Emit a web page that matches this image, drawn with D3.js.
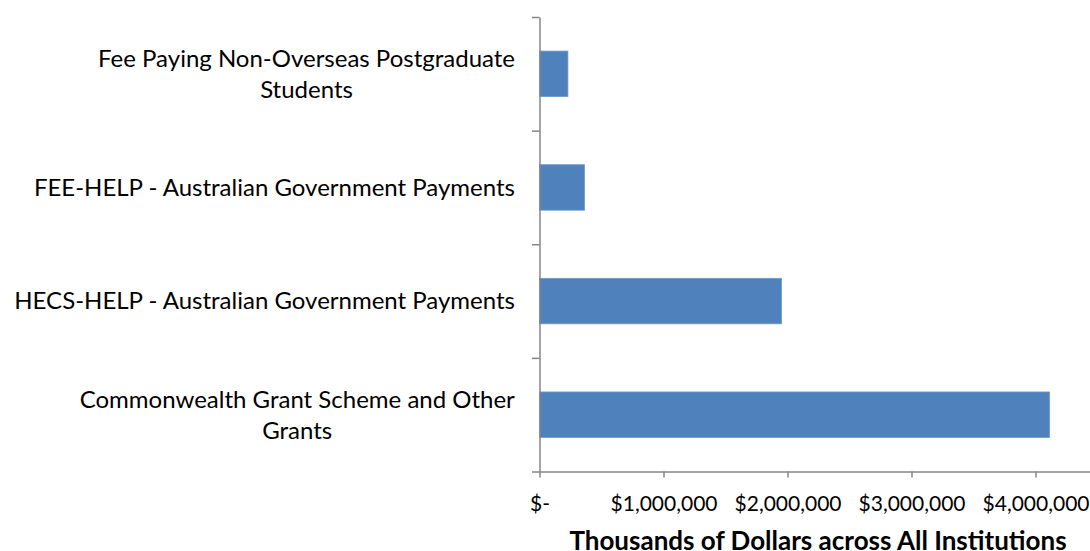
<!DOCTYPE html>
<html>
<head>
<meta charset="utf-8">
<script src="https://cdn.jsdelivr.net/npm/d3@7"></script>
<style>
  body { margin: 0; background: #fff; }
  svg { display: block; font-family: Lato, "Open Sans", sans-serif; }
</style>
</head>
<body>
<svg></svg>
<script>
// categories from top to bottom, with the line breaks used in the picture
let categories = [
    "Fee Paying Non-Overseas Postgraduate Students",
    "FEE-HELP - Australian Government Payments",
    "HECS-HELP - Australian Government Payments",
    "Commonwealth Grant Scheme and Other Grants"
]
let labelLines = [
    ["Fee Paying Non-Overseas Postgraduate", "Students"],
    ["FEE-HELP - Australian Government Payments"],
    ["HECS-HELP - Australian Government Payments"],
    ["Commonwealth Grant Scheme and Other", "Grants"]
]
// thousands of dollars
let values = [229000, 363000, 1952000, 4113000]
let xTicks = [0, 1000000, 2000000, 3000000, 4000000, 5000000]
let xTitle = "Thousands of Dollars across All Institutions"

let width = 1090
let height = 551
let plotLeft = 539.5
let plotTop = 17
let plotBottom = 471.5
let unit = 124   // pixels per $1,000,000

let svg = d3.select("svg")
    .attr("width", width)
    .attr("height", height)

// x runs past the right edge of the picture, like the cropped original
let xScale = d3.scaleLinear()
    .domain([0, 5000000])
    .range([plotLeft, plotLeft + unit * 5])

let yScale = d3.scaleBand()
    .domain(categories)
    .range([plotTop, plotBottom])
    .paddingInner(0.6)
    .paddingOuter(0.3)

// boundaries between categories for the y tick marks
let yEdges = d3.scaleLinear()
    .domain([0, categories.length])
    .range([plotTop, plotBottom])

// bars
svg.selectAll("rect.bar")
    .data(values)
    .enter()
    .append("rect")
    .attr("class", "bar")
    .attr("x", xScale(0))
    .attr("y", (d, i) => yScale(categories[i]))
    .attr("width", (d) => xScale(d) - xScale(0))
    .attr("height", yScale.bandwidth())
    .attr("fill", "#4f81bd")
    .attr("stroke", "#6d97cc")
    .attr("stroke-width", 0.8)

// x axis
let xAxis = d3.axisBottom(xScale)
    .tickValues(xTicks)
    .tickSizeInner(6)
    .tickSizeOuter(0)
    .tickPadding(18.5)
    .tickFormat((d) => d === 0 ? "$-" : "$" + d3.format(",")(d))

let gx = svg.append("g")
    .attr("transform", "translate(0," + plotBottom + ")")
    .call(xAxis)

gx.select(".domain").attr("stroke", "#868686").attr("stroke-width", 1.5)
gx.selectAll(".tick line").attr("stroke", "#868686").attr("stroke-width", 1.5)
gx.selectAll(".tick text")
    .attr("fill", "#000")
    .style("font-size", "21px")
    .style("font-family", "Lato, sans-serif")

// y axis: line with tick marks at the category boundaries, no text
let yAxis = d3.axisLeft(yEdges)
    .tickValues(d3.range(categories.length + 1))
    .tickSizeInner(7.5)
    .tickSizeOuter(0)
    .tickFormat("")

let gy = svg.append("g")
    .attr("transform", "translate(" + plotLeft + ",0)")
    .call(yAxis)

gy.select(".domain").attr("stroke", "#868686").attr("stroke-width", 1.5)
gy.selectAll(".tick line").attr("stroke", "#868686").attr("stroke-width", 1.5)

// category labels, centred on each band
let lineGap = 31
let labels = svg.append("g")
    .selectAll("text")
    .data(categories)
    .enter()
    .append("text")
    .attr("text-anchor", "middle")
    .attr("font-size", "24px")
    .attr("fill", "#000")

labels.each(function (c, i) {
    let lines = labelLines[i]
    let cy = yScale(c) + yScale.bandwidth() / 2
    let t = d3.select(this)
    lines.forEach((ln, j) => {
        t.append("tspan")
            .attr("x", 0)
            .attr("y", cy + (j - (lines.length - 1) / 2) * lineGap)
            .attr("dy", "0.35em")
            .text(ln)
    })
})

// right align the block, lines centred to each other as in the picture
labels.each(function () {
    let t = d3.select(this)
    let w = this.getBBox().width
    t.selectAll("tspan").attr("x", 515 - w / 2)
})

// x axis title
svg.append("text")
    .attr("x", 818)
    .attr("y", 549.5)
    .attr("text-anchor", "middle")
    .attr("font-size", "26px")
    .attr("font-weight", "bold")
    .attr("fill", "#000")
    .text(xTitle)
</script>
</body>
</html>
